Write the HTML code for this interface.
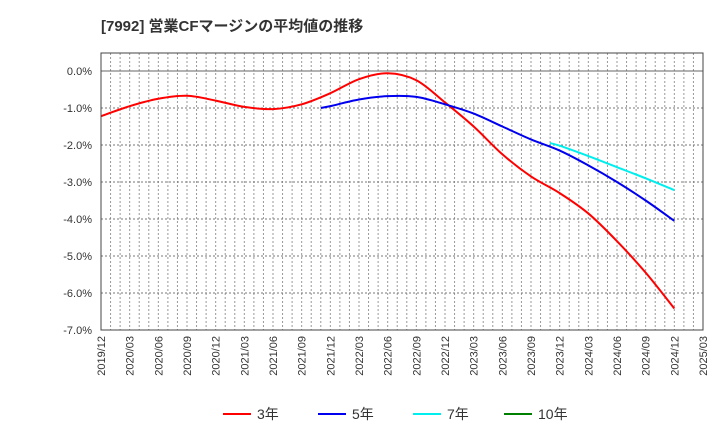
<!DOCTYPE html>
<html><head><meta charset="utf-8"><style>
body{margin:0;background:#fff;}
svg{display:block;font-family:"Liberation Sans","Noto Sans CJK JP",sans-serif;}
</style></head><body>
<svg id="c" width="720" height="440">
<text x="101" y="31" font-size="15" font-weight="bold" fill="#333">[7992]  営業CFマージンの平均値の推移</text>
<rect x="101" y="53" width="602" height="277" fill="#fff"/>
<g id="grid"></g><g id="axes"></g><g id="series"></g>
<rect x="101" y="53" width="602" height="277" fill="none" stroke="#444" stroke-width="1"/>
<g id="legend"></g>
</svg>
<script>
const xLabels=["2019/12","2020/03","2020/06","2020/09","2020/12","2021/03","2021/06","2021/09","2021/12","2022/03","2022/06","2022/09","2022/12","2023/03","2023/06","2023/09","2023/12","2024/03","2024/06","2024/09","2024/12","2025/03"];
const yTicks=[0,-1,-2,-3,-4,-5,-6,-7];
const s3m=[0,3,6,9,12,15,18,21,24,27,30,33,36,39,42,45,48,51,54,57,60];
const s3v=[-1.22,-0.95,-0.75,-0.67,-0.8,-0.97,-1.03,-0.9,-0.6,-0.22,-0.06,-0.25,-0.85,-1.5,-2.25,-2.85,-3.3,-3.85,-4.6,-5.45,-6.42];
const s5m=[23,24,27,30,33,36,39,42,45,48,51,54,57,60];
const s5v=[-1.0,-0.95,-0.77,-0.68,-0.7,-0.9,-1.15,-1.5,-1.85,-2.15,-2.55,-3.0,-3.5,-4.05];
const s7m=[47,48,51,54,57,60];
const s7v=[-1.95,-2.02,-2.3,-2.6,-2.9,-3.22];
const ns="http://www.w3.org/2000/svg";
const X=m=>101+m*602/63, Y=v=>71-v*37;
function el(t,a,p){const e=document.createElementNS(ns,t);for(const k in a)e.setAttribute(k,a[k]);document.getElementById(p).appendChild(e);return e;}
for(let m=1;m<63;m++){const g=el('line',{x1:X(m),x2:X(m),y1:53,y2:330,stroke:'#999','stroke-dasharray':'2,2'},'grid');

}
yTicks.forEach(v=>{if(v>-7){const g=el('line',{x1:101,x2:703,y1:Y(v),y2:Y(v),stroke:v===0?'#666':'#777','stroke-dasharray':v===0?'none':'2,2'},'grid');

}
const t=el('text',{x:92,y:Y(v)+4,'font-size':11,'text-anchor':'end',fill:'#333'},'axes');t.textContent=v.toFixed(1)+'%';

});
xLabels.forEach((l,i)=>{const x=X(i*3)+4;const t=el('text',{x:x,y:336,'font-size':11,'text-anchor':'end',fill:'#333',transform:`rotate(-90 ${x} 336)`},'axes');t.textContent=l;

});
function path(ms,vs){const p=ms.map((m,i)=>[X(m),Y(vs[i])]);let d=`M${p[0][0]},${p[0][1]}`;
for(let i=0;i<p.length-1;i++){const p0=p[i-1]||p[i],p1=p[i],p2=p[i+1],p3=p[i+2]||p2;
d+=` C${p1[0]+(p2[0]-p0[0])/6},${p1[1]+(p2[1]-p0[1])/6} ${p2[0]-(p3[0]-p1[0])/6},${p2[1]-(p3[1]-p1[1])/6} ${p2[0]},${p2[1]}`;}return d;}
[[s3m,s3v,'#ff0000','series-3y'],[s5m,s5v,'#0000ee','series-5y'],[s7m,s7v,'#00eeee','series-7y']].forEach(s=>{
const e=el('path',{d:path(s[0],s[1]),fill:'none',stroke:s[2],'stroke-width':2},'series');

});
[['3年','#ff0000',223],['5年','#0000ee',318],['7年','#00eeee',413],['10年','#008000',504]].forEach(l=>{
const g=el('line',{x1:l[2],x2:l[2]+28,y1:414,y2:414,stroke:l[1],'stroke-width':2},'legend');


const t=el('text',{x:l[2]+34,y:419,'font-size':14,fill:'#333'},'legend');t.textContent=l[0];

});
</script>
</body></html>
